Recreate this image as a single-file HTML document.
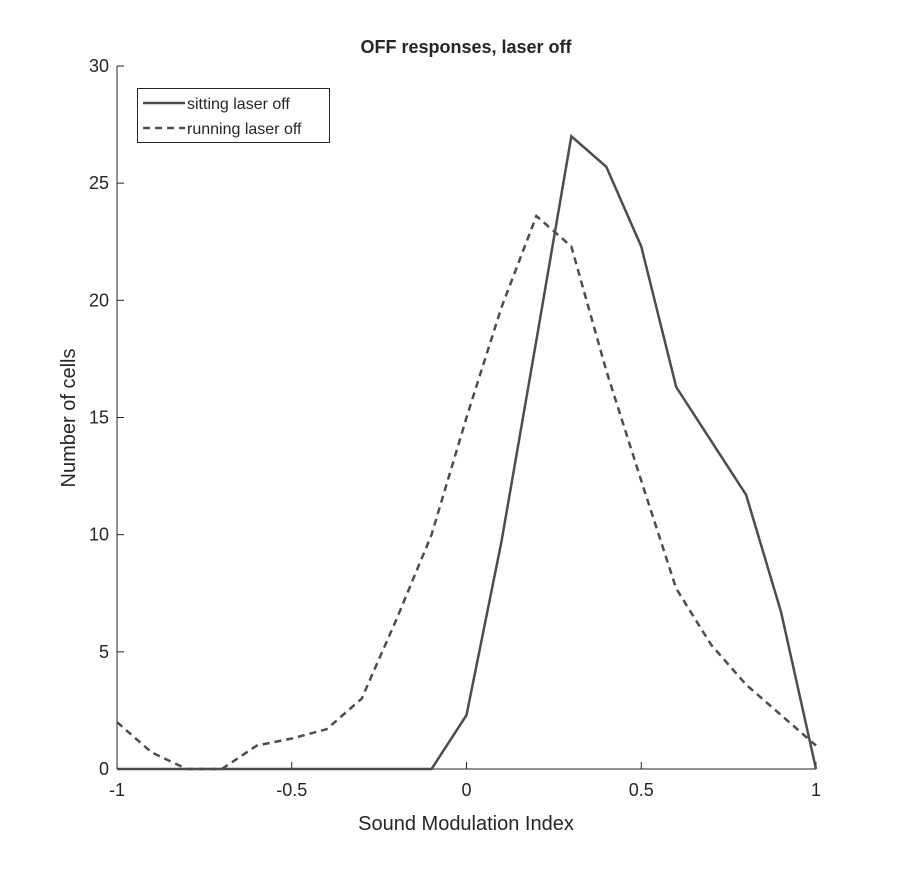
<!DOCTYPE html>
<html><head><meta charset="utf-8"><style>
body{margin:0;background:#fff;}
svg text{font-family:"Liberation Sans",Arial,sans-serif;fill:#262626;}
</style></head><body>
<svg id="chart" width="902" height="864">
<rect width="902" height="864" fill="#fff"/>
<text x="466" y="53" font-size="18" font-weight="bold" text-anchor="middle">OFF responses, laser off</text>
<g id="axes"></g>
<g id="lines"></g>
<text x="466" y="830" font-size="20" text-anchor="middle">Sound Modulation Index</text>
<text transform="translate(75,418) rotate(-90)" font-size="20" text-anchor="middle">Number of cells</text>
<g>
<rect x="137.5" y="88.5" width="192" height="54" fill="#fff" stroke="#262626" stroke-width="1"/>
<line x1="143" y1="103" x2="185" y2="103" stroke="#4d4d4d" stroke-width="2.5"/>
<text x="187" y="109" font-size="16">sitting laser off</text>
<line x1="143" y1="128" x2="185" y2="128" stroke="#4d4d4d" stroke-width="2.5" stroke-dasharray="7,5"/>
<text x="187" y="134" font-size="16">running laser off</text>
</g>
</svg>
<script>
const xs=[-1,-0.9,-0.8,-0.7,-0.6,-0.5,-0.4,-0.3,-0.2,-0.1,0,0.1,0.2,0.3,0.4,0.5,0.6,0.7,0.8,0.9,1];
const sitting=[0,0,0,0,0,0,0,0,0,0,2.3,9.7,18.3,27,25.7,22.3,16.3,14,11.7,6.7,0];
const running=[2,0.7,0,0,1,1.3,1.7,3,6.4,10,15,19.7,23.6,22.3,17,12.3,7.7,5.3,3.6,2.3,1];
const xTicks=[-1,-0.5,0,0.5,1];
const xTickLabels=["-1","-0.5","0","0.5","1"];
const yTicks=[0,5,10,15,20,25,30];
const X=v=>117+(v+1)/2*699;
const Y=v=>769-v/30*703;
const NS="http://www.w3.org/2000/svg";
const ax=document.getElementById('axes');
function mk(tag,attrs,parent){const e=document.createElementNS(NS,tag);for(const k in attrs)e.setAttribute(k,attrs[k]);parent.appendChild(e);return e;}
let l=mk('line',{x1:117,y1:769,x2:816,y2:769,stroke:'#262626'},ax);


l=mk('line',{x1:117,y1:66,x2:117,y2:769,stroke:'#262626'},ax);


xTicks.forEach((t,i)=>{
 const x=X(t);
 const tk=mk('line',{x1:x,y1:769,x2:x,y2:762,stroke:'#262626'},ax);
 
 
 const tx=mk('text',{x:x,y:796,'font-size':18,'text-anchor':'middle'},ax);
 tx.textContent=xTickLabels[i];
 
 
});
yTicks.forEach(t=>{
 const y=Y(t);
 const tk=mk('line',{x1:117,y1:y,x2:124,y2:y,stroke:'#262626'},ax);
 
 
 const tx=mk('text',{x:109,y:y+6,'font-size':18,'text-anchor':'end'},ax);
 tx.textContent=String(t);
 
 
});
const lg=document.getElementById('lines');
function path(vals){return vals.map((v,i)=>(i?'L':'M')+X(xs[i])+','+Y(v)).join(' ');}
const p1=mk('path',{d:path(running),fill:'none',stroke:'#4d4d4d','stroke-width':2.5,'stroke-dasharray':'7,5'},lg);


const p2=mk('path',{d:path(sitting),fill:'none',stroke:'#4d4d4d','stroke-width':2.5},lg);


</script>
</body></html>
